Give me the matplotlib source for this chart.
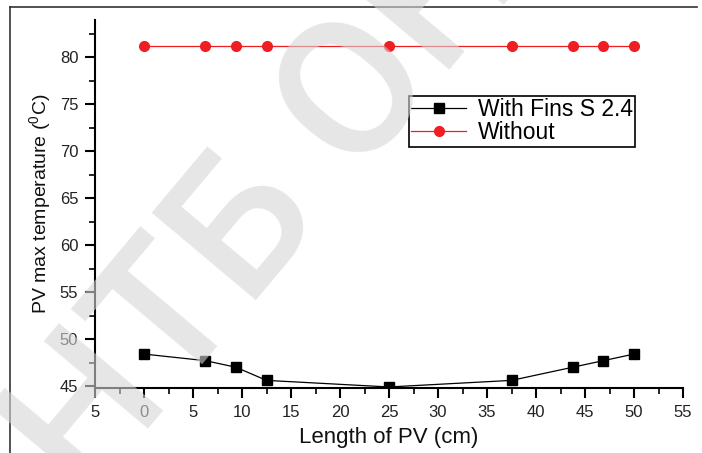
import matplotlib
matplotlib.use('Agg')
import matplotlib.pyplot as plt
from matplotlib.lines import Line2D
from matplotlib.ticker import FixedLocator, FixedFormatter, MultipleLocator

# ---- data ----
length_cm = [0, 6.25, 9.375, 12.5, 25, 37.5, 43.75, 46.875, 50]
temp_with_fins = [48.4, 47.7, 47.0, 45.6, 44.9, 45.6, 47.0, 47.7, 48.4]
temp_without = [81.2, 81.2, 81.2, 81.2, 81.2, 81.2, 81.2, 81.2, 81.2]
series_labels = ['With Fins S 2.4', 'Without']
x_ticks = [-5, 0, 5, 10, 15, 20, 25, 30, 35, 40, 45, 50, 55]
x_tick_labels = ['5', '0', '5', '10', '15', '20', '25', '30', '35', '40', '45', '50', '55']
y_ticks = [45, 50, 55, 60, 65, 70, 75, 80]
y_tick_labels = ['45', '50', '55', '60', '65', '70', '75', '80']
x_label = 'Length of PV (cm)'
y_label = r'PV max temperature ($^{0}$C)'
watermark = 'НТБ ОНТУ'

plt.rcParams['font.family'] = ['Liberation Sans', 'DejaVu Sans']
plt.rcParams['mathtext.fontset'] = 'custom'
plt.rcParams['mathtext.rm'] = 'Liberation Sans'
plt.rcParams['mathtext.it'] = 'Liberation Sans:italic'

W, H = 702, 453
fig = plt.figure(figsize=(W / 100, H / 100), dpi=100)
fig.patch.set_facecolor('white')

ax = fig.add_axes([95 / W, 1 - 388 / H, (683 - 95) / W, (388 - 20) / H])
ax.set_facecolor('none')

red = '#f01e23'
ax.plot(length_cm, temp_with_fins, color='black', lw=0.9, marker='s', ms=7,
        mfc='black', mec='black', label=series_labels[0])
ax.plot(length_cm, temp_without, color=red, lw=0.9, marker='o', ms=7,
        mfc=red, mec=red, label=series_labels[1])

ax.set_xlim(-5, 55)
ax.set_ylim(44.79, 83.94)

for s in ['top', 'right']:
    ax.spines[s].set_visible(False)
for s in ['left', 'bottom']:
    ax.spines[s].set_linewidth(1.5)
    ax.spines[s].set_color('black')

ax.xaxis.set_major_locator(FixedLocator(x_ticks))
ax.xaxis.set_major_formatter(FixedFormatter(x_tick_labels))
ax.yaxis.set_major_locator(FixedLocator(y_ticks))
ax.yaxis.set_major_formatter(FixedFormatter(y_tick_labels))
ax.xaxis.set_minor_locator(MultipleLocator(2.5))
ax.yaxis.set_minor_locator(MultipleLocator(2.5))
ax.tick_params(which='major', direction='out', length=7, width=1.5,
               labelsize=12, pad=5, labelcolor='#222222')
ax.tick_params(which='minor', direction='out', length=4, width=1.2)

ax.set_xlabel(x_label, fontsize=16, labelpad=5, color='#111111')
ax.set_ylabel(y_label, fontsize=14, labelpad=5, color='#111111')

leg = ax.legend(loc='upper left', bbox_to_anchor=(409 / W, 1 - 96 / H),
                bbox_transform=fig.transFigure, borderaxespad=0,
                fancybox=False, framealpha=1, edgecolor='black',
                handlelength=2.4, handletextpad=0.5, labelspacing=0.0,
                borderpad=0.1, fontsize=16.5, numpoints=1)
leg.get_frame().set_linewidth(1.2)

# outer frame of the picture
fig.add_artist(Line2D([10 / W, 10 / W], [1 - 7 / H, 0], transform=fig.transFigure,
                      color='#333333', lw=1.2))
fig.add_artist(Line2D([10 / W, 697 / W], [1 - 7 / H, 1 - 7 / H], transform=fig.transFigure,
                      color='#333333', lw=1.2))

# watermark
fig.text(85 / W, 1 - 504 / H, watermark, rotation=50, rotation_mode='anchor',
         ha='left', va='baseline', fontsize=138, fontweight='medium',
         family=['Roboto', 'Liberation Sans'], color='#d6d6d6', alpha=0.6, zorder=10)

fig.savefig('out.png', dpi=100)
